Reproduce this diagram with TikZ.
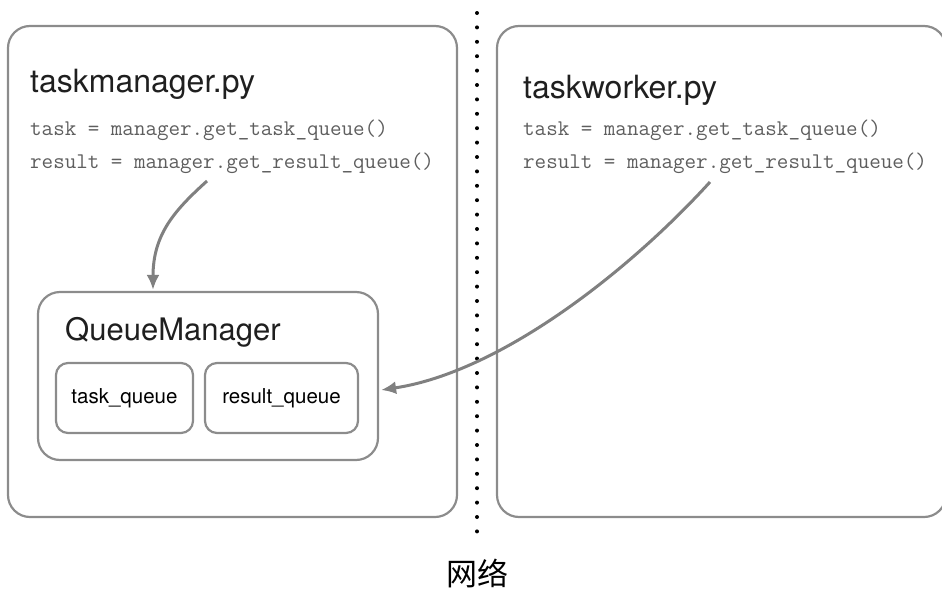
\documentclass[tikz,border=0pt]{standalone}
\usepackage{fontspec}
\setmainfont{TeX Gyre Heros}
\newfontfamily\cjk{Noto Sans CJK SC}
\usetikzlibrary{arrows.meta}
\definecolor{boxgray}{HTML}{8C8C8C}
\definecolor{arrowgray}{HTML}{808080}
\definecolor{codegray}{HTML}{5E5E5E}

\begin{document}
\begin{tikzpicture}[x=1pt,y=-1pt,
    box/.style={draw=boxgray,line width=2.2pt,rounded corners=22pt,inner sep=0pt},
    title/.style={anchor=base west,inner sep=0pt,text=black!88,font=\fontsize{32}{32}\selectfont},
    code/.style={anchor=base west,inner sep=0pt,text=codegray,font=\ttfamily\fontsize{22.4}{22}\selectfont},
    link/.style={draw=arrowgray,line width=3pt,-{Latex[length=15pt,width=13pt]}}]
      \useasboundingbox (0,0) rectangle (942,589);
      \node[box,minimum width=449pt,minimum height=491pt] (mbox) at (232.5,271.5) {};
      \node[box,minimum width=449pt,minimum height=491pt] (wbox) at (721.5,271.5) {};
      \node[title] (mtitle) at (30,92) {taskmanager.py};
      \node[code] (mtask) at (30,135) {task = manager.get\_task\_queue()};
      \node[code] (mresult) at (30,168) {result = manager.get\_result\_queue()};
      \node[title] (wtitle) at (523,98) {taskworker.py};
      \node[code] (wtask) at (523,135) {task = manager.get\_task\_queue()};
      \node[code] (wresult) at (523,168) {result = manager.get\_result\_queue()};
      \node[box,minimum width=340pt,minimum height=168pt] (qm) at (208,376) {};
      \node[title,font=\fontsize{31}{31}\selectfont] (qmtitle) at (65,340) {QueueManager};
      \node[box,rounded corners=12pt,minimum width=137pt,minimum height=70pt,font=\fontsize{20.5}{21}\selectfont] (tq) at (124.5,398) {task\_queue};
      \node[box,rounded corners=12pt,minimum width=153pt,minimum height=70pt,font=\fontsize{20.5}{21}\selectfont] (rq) at (281.5,398) {result\_queue};
      \foreach \i in {0,...,36}
        \fill (477,13+14.4*\i) circle (2pt);
      \node[font=\cjk\fontsize{31}{31}\selectfont] (net) at (477,573) {网络};
      \draw[link] ([shift={(177,13)}]mresult.base west) .. controls +(-32,29) and +(0,-56) .. ([shift={(-55,-1)}]qm.north);
      \draw[link] ([shift={(187,14)}]wresult.base west) .. controls +(-80,88) and +(120,-18) .. ([shift={(2,14)}]qm.east);
\end{tikzpicture}
\end{document}
